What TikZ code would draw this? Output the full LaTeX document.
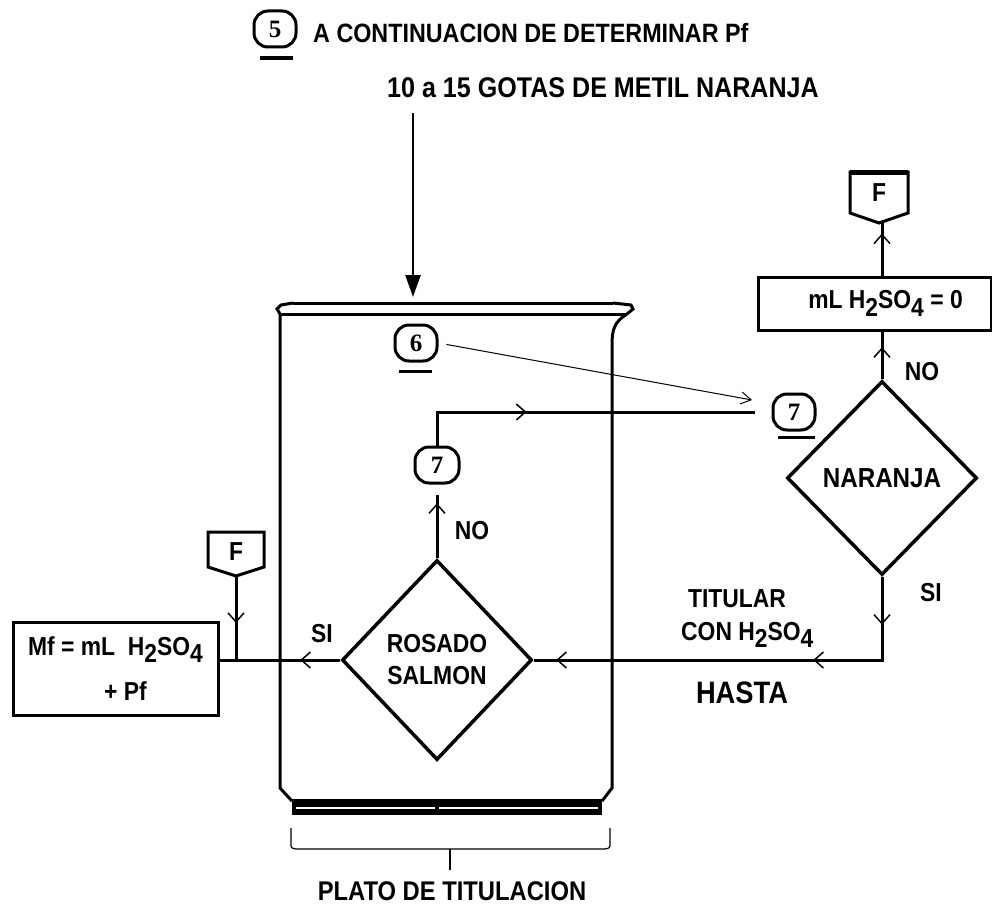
\documentclass[tikz,border=0pt]{standalone}
\usepackage{fontspec}
\setmainfont{Liberation Sans}[FakeStretch=0.88]
\newfontfamily\numfont{Liberation Serif}
\usetikzlibrary{arrows.meta,shapes.geometric,decorations.markings}
\newcommand\lowr[1]{\raisebox{-0.55ex}{#1}}
\newcommand\fs[1]{\fontsize{#1}{#1}\selectfont\bfseries}
\tikzset{
  vtip/.tip={Straight Barb[length=9pt,width=16pt,line width=1.5pt]},
  lw/.style={line width=3pt},
  txt/.style={inner sep=0pt, font=\fs{26}},
  circ/.style={draw, line width=3pt, rounded corners=14pt, minimum width=42pt, minimum height=36pt, inner sep=0pt, font=\numfont\fontsize{25}{25}\selectfont\bfseries},
  dia/.style={draw, diamond, line width=3.5pt, inner sep=0pt, align=center},
  box/.style={draw, line width=3pt, inner sep=0pt},
  arrat/.style={postaction={decorate}, decoration={markings, mark=at position #1 with {\arrow{vtip}}}},
}
\begin{document}
\begin{tikzpicture}[x=1pt,y=-1pt]
\fill[white] (0,0) rectangle (992,907);
\useasboundingbox (0,0) rectangle (992,907);

% title
\node[circ] (c5) at (275,29) {5};
\draw[lw] (260,58) -- (293,58);
\node[txt, anchor=west, font=\fs{26.5}] (t1) at (313,33) {A CONTINUACION DE DETERMINAR Pf};
\node[txt, font=\fs{28.5}] (t2) at (603,88) {10 a 15 GOTAS DE METIL NARANJA};
\coordinate (a0) at (413,113);
\coordinate (a1) at (413,297);
\draw[line width=2.5pt, -{Triangle[length=22pt,width=15pt]}] (a0) -- (a1);

% beaker
\draw[lw] (293,303) -- (613,303);
\draw[lw] (280,314) -- (627,314);
\draw[lw] (280,314) -- (277,309) -- (281,305) -- (293,303);
\draw[lw] (613,303) -- (631,305) -- (633,309) -- (627,314);
\draw[lw] (627,314) .. controls (614,322) and (612,330) .. (612,345) -- (612,788) -- (602,801);
\draw[lw] (280,314) -- (280,788) -- (292,801);
\fill (292,799) rectangle (602,815);
\draw[white, line width=1.5pt] (296,808) -- (598,808);
\fill (435,804) rectangle (439,812);
\draw[line width=1.2pt] (291,828) -- (291,843) .. controls (291,848) .. (296,849) -- (605,849) .. controls (610,848) .. (610,843) -- (610,828);
\draw[line width=1.2pt] (450,849) -- (450,870);
\node[txt, font=\fs{27}] (plato) at (452,891) {PLATO DE TITULACION};

% circles 6 and 7
\node[circ] (c6) at (416,343) {6};
\draw[lw] (399,371) -- (432,371);
\node[circ] (c7R) at (794,412) {7};
\draw[lw] (778,437) -- (815,437);
\node[circ, minimum width=44pt] (c7a) at (437,465) {7};
\coordinate (t67) at (752,400);
\draw[line width=1pt, shorten <=8pt, -{Straight Barb[length=10pt,width=12pt,line width=1pt]}] (c6.east) -- (t67);
\coordinate (h7) at (755,412);
\draw[lw, arrat=123pt] (c7a.north) |- (h7);

% diamonds
\node[dia, minimum width=190pt, minimum height=200pt, font=\fs{26}] (R) at (437,660) {ROSADO\\[6pt]SALMON};
\node[dia, minimum width=190pt, minimum height=194pt, font=\fs{27.5}] (N) at (882,478) {NARANJA};
\draw[lw, arrat=55pt, shorten >=10pt] (R.north) -- (c7a.south);
\node[txt] (no1) at (472,531) {NO};

% upper right
\node[box, minimum width=233pt, minimum height=53pt, font=\fs{26}] (B0) at (874.5,303.5) {\hspace{22pt}mL H\lowr{2}SO\lowr{4} = 0};
\draw[lw, arrat=32pt] (N.north) -- (N.north |- B0.south);
\draw[lw] (850,172) -- (908,172) -- (908,213) -- (879,223) -- (850,213) -- cycle;
\draw[line width=5pt] (850,172) -- (908,172);
\node[txt] (FR) at (879,193) {F};
\coordinate (FRb) at (879,223);
\draw[lw, arrat=42pt] (N.north |- B0.north) -- (N.north |- FRb);
\node[txt] (no2) at (922,372) {NO};
\node[txt] (si1) at (931,593) {SI};

% bottom connector
\draw[lw, postaction={decorate}, decoration={markings,
   mark=at position 48pt with {\arrow{vtip}},
   mark=at position 152pt with {\arrow{vtip}},
   mark=at position 409pt with {\arrow{vtip}}}] (N.south) |- (R.east);
\node[txt, anchor=base] (tit) at (737,607) {TITULAR};
\node[txt, anchor=base west] (con) at (681,640) {CON H\lowr{2}SO\lowr{4}};
\node[txt, anchor=base, font=\fs{31}] (hasta) at (742,703) {HASTA};

% left
\node[box, minimum width=205pt, minimum height=93pt, align=center, font=\fs{26}] (M) at (115.5,668.5) {Mf = mL\ \ H\lowr{2}SO\lowr{4}\\[18pt]\hspace{20pt}+ Pf};
\draw[lw, arrat=40pt] (R.west) -- (R.west -| M.east);
\draw[lw] (208,532) -- (264,532) -- (264,567) -- (236,576) -- (208,567) -- cycle;
\node[txt] (FL) at (236,552) {F};
\coordinate (FLb) at (236,576);
\draw[lw, arrat=47pt] (FLb) -- (FLb |- R.west);
\node[txt] (si2) at (322,634) {SI};
\end{tikzpicture}
\end{document}
